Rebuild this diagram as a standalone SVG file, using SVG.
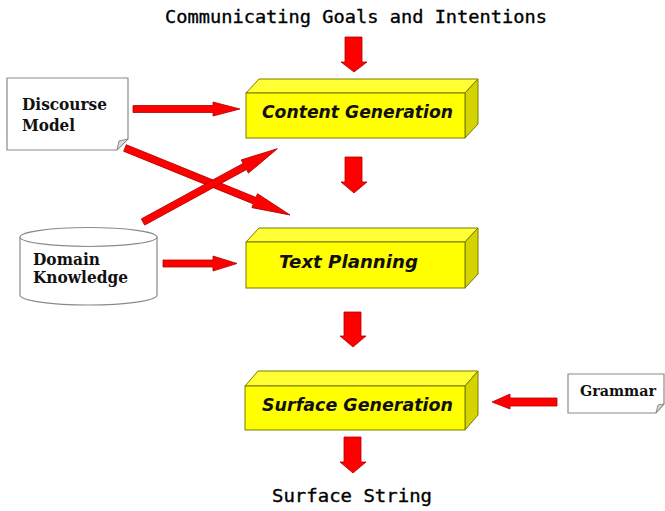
<svg xmlns="http://www.w3.org/2000/svg" width="665" height="511" viewBox="0 0 665 511">
  <style>
    .mono { font-family: "DejaVu Sans Mono", "Liberation Mono", monospace; font-size: 18.5px; fill: #000; stroke: #000; stroke-width: 0.35; }
    .box-front { fill: #ffff00; stroke: #7a7a00; stroke-width: 1; }
    .box-top { fill: #ffff33; stroke: #7a7a00; stroke-width: 1; }
    .box-side { fill: #d4d400; stroke: #7a7a00; stroke-width: 1; }
    .box-label { font-family: "DejaVu Sans", "Liberation Sans", sans-serif; font-weight: bold; font-style: italic; font-size: 17px; fill: #111; }
    .store-label { font-family: "DejaVu Serif", "Liberation Serif", serif; font-weight: bold; font-size: 16.5px; fill: #111; }
    .store-label.small { font-size: 14.5px; }
    .sheet { fill: #ffffff; stroke: #8a8a8a; stroke-width: 1.2; }
    .fold { fill: #d8d8d8; stroke: #8a8a8a; stroke-width: 1; }
    .arrow { fill: #ff0000; stroke: #b00000; stroke-width: 0.8; stroke-linejoin: miter; }
  </style>

  <rect width="665" height="511" fill="#ffffff"/>

  <!-- input / output captions -->
  <text class="mono" x="165" y="23" textLength="382" lengthAdjust="spacingAndGlyphs">Communicating Goals and Intentions</text>
  <text class="mono" x="272" y="502" textLength="160" lengthAdjust="spacingAndGlyphs">Surface String</text>

  <!-- pipeline stages -->
  <g id="content-generation">
    <path class="box-top" d="M246,93 L259,79 L478,79 L465,93 Z"/>
    <path class="box-side" d="M465,93 L478,79 L478,124 L465,138 Z"/>
    <rect class="box-front" x="246" y="93" width="219" height="45"/>
    <text class="box-label" x="262" y="118" textLength="191" lengthAdjust="spacingAndGlyphs">Content Generation</text>
  </g>

  <g id="text-planning">
    <path class="box-top" d="M246,242 L259,228 L478,228 L465,242 Z"/>
    <path class="box-side" d="M465,242 L478,228 L478,274 L465,288 Z"/>
    <rect class="box-front" x="246" y="242" width="219" height="46"/>
    <text class="box-label" x="279" y="268" textLength="139" lengthAdjust="spacingAndGlyphs">Text Planning</text>
  </g>

  <g id="surface-generation">
    <path class="box-top" d="M245,386 L258,371 L478,371 L465,386 Z"/>
    <path class="box-side" d="M465,386 L478,371 L478,415 L465,430 Z"/>
    <rect class="box-front" x="245" y="386" width="220" height="44"/>
    <text class="box-label" x="262" y="411" textLength="191" lengthAdjust="spacingAndGlyphs">Surface Generation</text>
  </g>

  <!-- knowledge sources -->
  <g id="discourse-model">
    <path class="sheet" d="M7,78 H128 V139 L117,150 H7 Z"/>
    <path class="fold" d="M128,139 L119,141 L117,150 Z"/>
    <text class="store-label" x="22" y="110" textLength="85" lengthAdjust="spacingAndGlyphs">Discourse</text>
    <text class="store-label" x="22" y="131" textLength="53" lengthAdjust="spacingAndGlyphs">Model</text>
  </g>

  <g id="domain-knowledge">
    <path class="sheet" d="M20,237 V295 A68.5,10 0 0 0 157,295 V237"/>
    <ellipse class="sheet" cx="88.5" cy="237" rx="68.5" ry="9.5"/>
    <text class="store-label" x="33" y="265" textLength="67" lengthAdjust="spacingAndGlyphs">Domain</text>
    <text class="store-label" x="33" y="283" textLength="95" lengthAdjust="spacingAndGlyphs">Knowledge</text>
  </g>

  <g id="grammar">
    <path class="sheet" d="M568,374 H664 V404 L656,413 H568 Z"/>
    <path class="fold" d="M664,404 L658,405 L656,413 Z"/>
    <text class="store-label small" x="580" y="396" textLength="76" lengthAdjust="spacingAndGlyphs">Grammar</text>
  </g>

  <!-- connectors -->
  <g id="connectors">
    <!-- main flow, downward -->
    <path class="arrow" d="M345,37 H362 V62 H367 L354,72 L341,62 H345 Z"/>
    <path class="arrow" d="M345,157 H362 V182 H367 L354,193 L341,182 H345 Z"/>
    <path class="arrow" d="M344,312 H361 V336 H366 L353,347 L340,336 H344 Z"/>
    <path class="arrow" d="M344,437 H361 V462 H366 L353,473 L340,462 H344 Z"/>

    <!-- side inputs -->
    <path class="arrow" d="M133,105.5 H213 V102 L240,109 L213,116 V112.5 H133 Z"/>
    <path class="arrow" d="M163,260 H213 V256 L237,263.5 L213,271 V267 H163 Z"/>
    <path class="arrow" d="M557,398 H510 V394 L492,402 L510,409 V406 H557 Z"/>

    <!-- crossing inputs -->
    <path class="arrow" transform="translate(125,148) rotate(22.1)" d="M0,-3.5 H140 V-7.5 L178,0 L140,7.5 V3.5 H0 Z"/>
    <path class="arrow" transform="translate(143,222) rotate(-28.6)" d="M0,-3.5 H116 V-7.5 L153,0 L116,7.5 V3.5 H0 Z"/>
  </g>
</svg>
